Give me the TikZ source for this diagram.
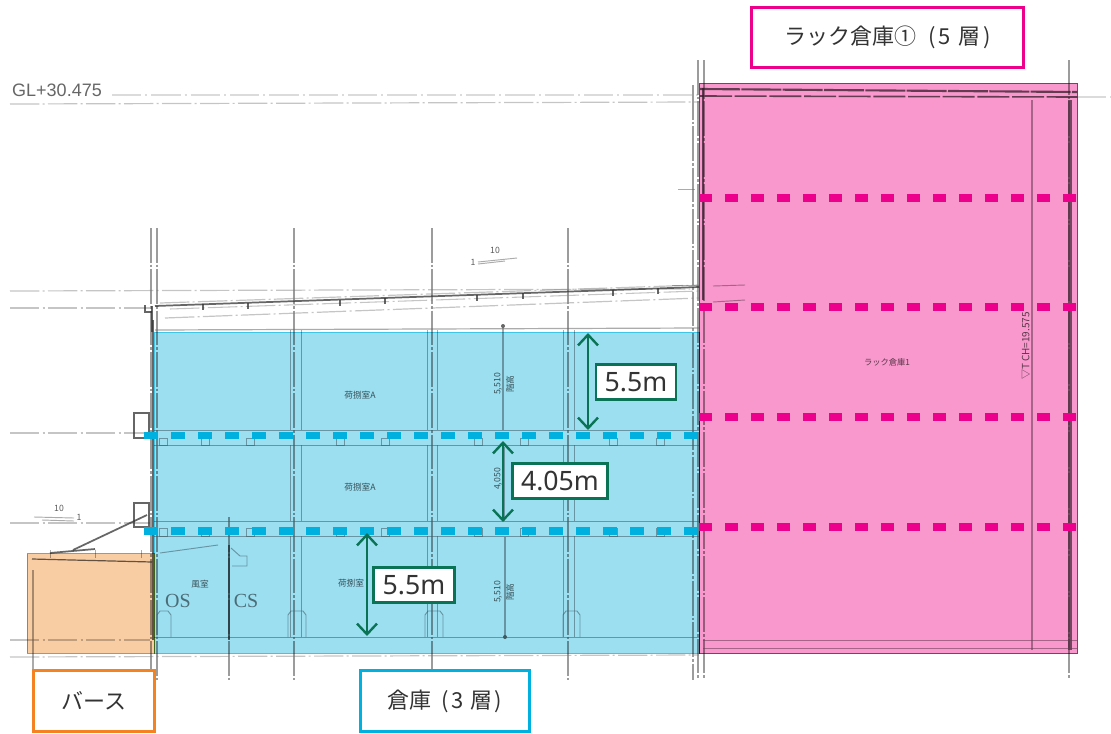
\documentclass[tikz,border=0pt]{standalone}
\usepackage{fontspec}
\setmainfont{Noto Sans CJK JP}
\newfontfamily\latinsans{Noto Sans}
\newfontfamily\draftserif{Liberation Serif}
\newfontfamily\draftsans{Liberation Sans}
\usetikzlibrary{arrows.meta}
\definecolor{bluezone}{HTML}{9CDFF1}
\definecolor{blueedge}{HTML}{00B0DF}
\definecolor{pinkzone}{HTML}{F898CC}
\definecolor{pinkedge}{HTML}{EC008C}
\definecolor{orangezone}{HTML}{F8CDA3}
\definecolor{orangeedge}{HTML}{F58220}
\definecolor{dimgreen}{HTML}{0B7355}
\definecolor{inkgrey}{HTML}{333333}
\tikzset{
  x=0.75pt,y=-0.75pt,
  draftline/.style={draw=black!60,line width=0.7pt,opacity=0.55},
  draftheavy/.style={draw=black!80,line width=1.3pt,opacity=0.75},
  draftdash/.style={draw=black!50,line width=0.9pt,opacity=0.45,dash pattern=on 22pt off 2.5pt on 1.5pt off 2.5pt},
  draftfaint/.style={draw=black!35,line width=0.8pt,opacity=0.4,dash pattern=on 22pt off 3pt on 1.5pt off 3pt},
  draftaxis/.style={draw=black!55,line width=1.5pt,opacity=0.7,dash pattern=on 26pt off 1.5pt on 2pt off 1.5pt},
  drafttext/.style={text=black!85,opacity=0.75,inner sep=0pt,font=\fontsize{6.5pt}{7pt}\selectfont},
  zone/.style={line width=0.7pt,blend mode=multiply},
  level/.style={line width=5.6pt},
  bluelevel/.style={level,draw=blueedge,dash pattern=on 10.125pt off 10.125pt},
  pinklevel/.style={level,draw=pinkedge,dash pattern=on 9.75pt off 9.75pt},
  dimarrow/.style={draw=dimgreen,line width=1.8pt,{Straight Barb[length=8pt,width=15pt]}-{Straight Barb[length=8pt,width=15pt]}},
  dimlabel/.style={draw=dimgreen,fill=white,line width=1.8pt,text=inkgrey,inner sep=0pt,font=\latinsans\fontsize{20pt}{22pt}\selectfont,anchor=center},
  tag/.style={fill=white,line width=1.9pt,text=inkgrey,inner sep=0pt,font=\fontsize{16.5pt}{20pt}\selectfont,anchor=center},
}
\begin{document}
\begin{tikzpicture}
\useasboundingbox (0,0) rectangle (1111,733);
\fill[white] (0,0) rectangle (1111,733);

% --- the scanned section drawing ---
\draw[draftfaint] (112,95) -- (700,95);
\draw[draftdash] (10,104) -- (700,102);
\draw[draftfaint] (1077,97) -- (1111,97);
\draw[draftdash] (10,291) -- (690,289);
\draw[draftdash] (10,308) -- (150,308);
\draw[draftdash] (10,433) -- (150,433);
\draw[draftdash] (10,523) -- (150,523);
\draw[draftdash] (10,640) -- (150,640);
\draw[draftdash] (10,657) -- (699,655);

% gridlines
\foreach \gx in {151,157,294,432,568}{\draw[draftaxis] (\gx,228) -- (\gx,680);}
\draw[draftaxis] (229,517) -- (229,680);
\draw[draftaxis] (693,85) -- (693,680);
\draw[draftaxis] (698,60) -- (698,680);
\draw[draftaxis] (704,60) -- (704,680);
\draw[draftaxis] (1069,60) -- (1069,680);
\draw[draftline,line width=1.4pt] (33,570) -- (33,670);

% roof
\draw[draftheavy] (155,306) -- (699,287);
\draw[draftdash] (160,303) -- (699,285);
\draw[draftdash,line width=0.8pt] (170,309) -- (699,291);
\draw[draftdash] (165,318) -- (699,298);
\foreach \tx in {203,248,340,385,477,523,613,658}{
  \pgfmathsetmacro{\ty}{306-(\tx-155)*19/544}
  \draw[draftheavy] (\tx,\ty) -- (\tx,\ty+6);
}
\draw[draftheavy] (145,305) -- (145,312) -- (152,312);
\draw[draftheavy] (152,306) -- (152,332);

% ceiling, floors, base
\draw[draftline,line width=0.9pt] (155,330) -- (699,328);
\foreach \fy in {430,445,521,536,637}{\draw[draftline] (154,\fy) -- (699,\fy);}
\foreach \bx in {163,205,250,340,385,478,524,613,660}{
  \draw[draftline] (\bx-4,445) rectangle (\bx+4,438);
  \draw[draftline] (\bx-4,536) rectangle (\bx+4,528);
}

% columns
\foreach \cl/\cr in {290/301,427/437,563/574}{
  \draw[draftline] (\cl,330) -- (\cl,430);
  \draw[draftline] (\cr,330) -- (\cr,430);
  \draw[draftline] (\cl,445) -- (\cl,521);
  \draw[draftline] (\cr,445) -- (\cr,521);
  \draw[draftline] (\cl,536) -- (\cl,637);
  \draw[draftline] (\cr,536) -- (\cr,637);
}
\foreach \bl/\br in {157/171,288/306,425/443,563/580}{
  \draw[draftline] (\bl,637) -- (\bl,615) -- (\bl+3,611) -- (\br-3,611) -- (\br,615) -- (\br,637);
}

% middle studs
\draw[draftline,line width=1.2pt] (503,326) -- (503,430);
\draw[draftline,line width=1.2pt] (504,447) -- (504,521);
\draw[draftline,line width=1.2pt] (505,537) -- (505,637);
\fill[black!60] (503,326) circle (2);
\fill[black!60] (505,637) circle (2);

% left outer wall and canopy
\draw[draftheavy,line width=1.6pt] (153,320) -- (153,640);
\draw[draftheavy] (134,413) rectangle (149,438);
\draw[draftheavy] (134,503) rectangle (149,527);
\draw[draftheavy] (73,550) -- (147,515);
\draw[draftheavy] (50,553) -- (95,549);
\foreach \tx in {50,95,141}{\draw[draftline] (\tx,550) -- (\tx,558);}
\draw[draftheavy,line width=0.9pt] (32,559) -- (152,562);
\draw[draftline] (160,553) -- (218,545);
\draw[draftheavy,line width=1.6pt] (229,545) -- (229,640);
\draw[draftline] (231,548) -- (240,556) -- (247,556) -- (247,566) -- (232,566);

% rack warehouse structure
\draw[draftheavy,line width=1.6pt,dash pattern=on 30pt off 1pt] (700,89) -- (1077,92);
\draw[draftheavy,line width=1.2pt,dash pattern=on 24pt off 2pt] (700,96) -- (1077,97);
\draw[draftheavy,line width=1.6pt] (703,88) -- (703,300);
\draw[draftline] (713,286) -- (745,285);
\draw[draftline] (713,302) -- (745,300);
\draw[draftline] (678,189) -- (695,189);
\draw[draftline] (672,285) -- (699,285);
\draw[draftline,line width=1.5pt] (1032,100) -- (1032,650);
\draw[draftheavy,draw=black!70,line width=2.6pt] (1070,100) -- (1070,650);
\draw[draftline] (703,640) -- (1077,640);
\draw[draftline] (703,648) -- (1077,648);

% slope marks
\node[drafttext] (slopeA) at (495,250) {10};
\node[drafttext] (slopeB) at (473,262) {1};
\draw[draftline] (478,262) -- (517,258);
\draw[draftline] (478,264) -- (505,261);
\node[drafttext] (slopeC) at (59,508) {10};
\node[drafttext] (slopeD) at (79,517) {1};
\draw[draftline] (34,517) -- (74,518);
\draw[draftline] (42,520) -- (74,521);

% drawing text
\node[drafttext,opacity=0.7,font=\draftsans\fontsize{13.5pt}{14pt}\selectfont] (glmark) at (57,90) {GL+30.475};
\node[drafttext] (roomA) at (360,395) {荷捌室A};
\node[drafttext] (roomB) at (360,487) {荷捌室A};
\node[drafttext] (roomC) at (351,583) {荷捌室};
\node[drafttext] (roomD) at (200,584) {風室};
\node[drafttext,opacity=0.6,font=\draftserif\fontsize{15pt}{16pt}\selectfont] (markOS) at (178,601) {OS};
\node[drafttext,opacity=0.6,font=\draftserif\fontsize{15pt}{16pt}\selectfont] (markCS) at (246,601) {CS};
\node[drafttext,rotate=90] (heightA) at (498,384) {5,510};
\node[drafttext,rotate=90] (heightB) at (498,479) {4,050};
\node[drafttext,rotate=90] (heightC) at (498,592) {5,510};
\node[drafttext,rotate=90] (heightD) at (510,384) {階高};
\node[drafttext,rotate=90] (heightF) at (510,592) {階高};
\node[drafttext,font=\fontsize{6.2pt}{7pt}\selectfont] (rackname) at (887,362) {ラック倉庫1};
\node[drafttext,rotate=90,font=\fontsize{7.5pt}{8pt}\selectfont] (rackheight) at (1026,346) {▽T CH=19.575};

% --- colour zones ---
\path[zone,fill=orangezone,draw=orangeedge] (27,553.5) rectangle (154,653);
\path[zone,fill=bluezone,draw=blueedge!75] (154.5,332.5) rectangle (699,653);
\path[zone,fill=pinkzone,draw=pinkedge] (699,83.5) rectangle (1077,653);

% --- floor levels ---
\foreach \py in {198,307,417,527}{\draw[pinklevel] (699,\py) -- (1077,\py);}
\foreach \by in {435.5,531}{\draw[bluelevel] (144,\by) -- (697,\by);}

% --- dimensions ---
\coordinate (dimAtop) at (588,333);
\coordinate (dimAbot) at (588,430);
\coordinate (dimBtop) at (503,441);
\coordinate (dimBbot) at (503,522);
\coordinate (dimCtop) at (367,533);
\coordinate (dimCbot) at (367,636);
\draw[dimarrow] (dimAtop) -- (dimAbot);
\draw[dimarrow] (dimBtop) -- (dimBbot);
\draw[dimarrow] (dimCtop) -- (dimCbot);
\node[dimlabel,minimum width=60pt,minimum height=26pt] (labelA) at (636,382) {5.5m};
\node[dimlabel,minimum width=71pt,minimum height=26pt] (labelB) at (560,481) {4.05m};
\node[dimlabel,minimum width=60.5pt,minimum height=26pt] (labelC) at (414,585) {5.5m};

% --- tags ---
\node[tag,draw=pinkedge,minimum width=204pt,minimum height=45pt] (tagRack) at (887.5,37.5) {ラック倉庫①\hspace{9pt}(\hspace{2pt}5\hspace{6pt}層\hspace{2pt})};
\node[tag,draw=orangeedge,minimum width=91pt,minimum height=46pt] (tagBerth) at (94,701) {バース};
\node[tag,draw=blueedge,minimum width=127pt,minimum height=46pt] (tagStore) at (445,701) {倉庫\hspace{7pt}(\hspace{2pt}3\hspace{5pt}層\hspace{2pt})};
\end{tikzpicture}
\end{document}
